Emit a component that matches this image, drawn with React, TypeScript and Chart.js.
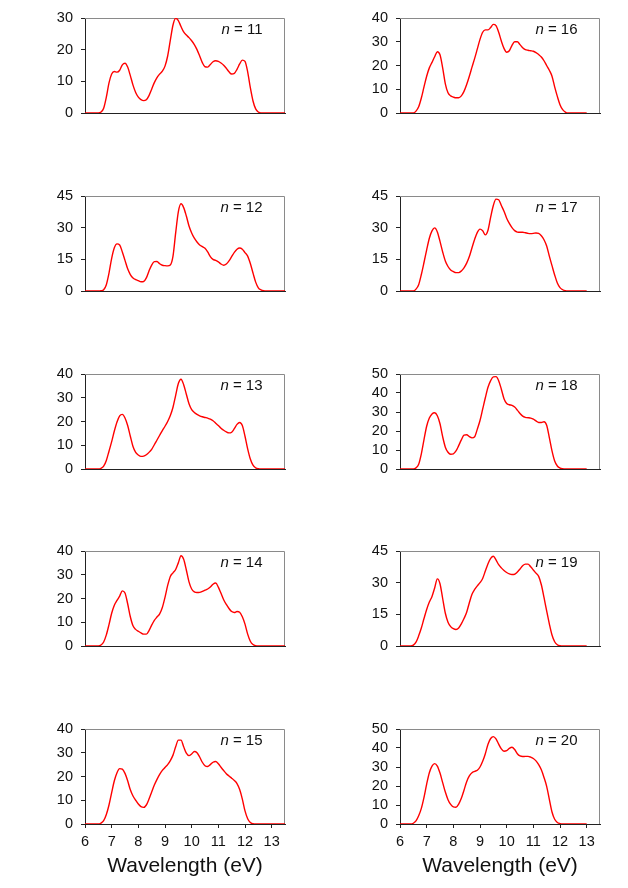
import React, { useEffect, useRef } from 'react';
import { Chart, registerables } from 'chart.js';

Chart.register(...registerables);

// Photon energy grid (eV)
const wavelengths = [
  6.0, 6.1, 6.2, 6.3, 6.4, 6.5, 6.6, 6.7, 6.8, 6.9,
  7.0, 7.1, 7.2, 7.3, 7.4, 7.5, 7.6, 7.7, 7.8, 7.9,
  8.0, 8.1, 8.2, 8.3, 8.4, 8.5, 8.6, 8.7, 8.8, 8.9,
  9.0, 9.1, 9.2, 9.3, 9.4, 9.5, 9.6, 9.7, 9.8, 9.9,
  10.0, 10.1, 10.2, 10.3, 10.4, 10.5, 10.6, 10.7, 10.8, 10.9,
  11.0, 11.1, 11.2, 11.3, 11.4, 11.5, 11.6, 11.7, 11.8, 11.9,
  12.0, 12.1, 12.2, 12.3, 12.4, 12.5, 12.6, 12.7, 12.8, 12.9,
  13.0, 13.1, 13.2, 13.3, 13.4, 13.5,
];

const n11 = [
  0, 0, 0, 0, 0, 0, 0.3, 1.5, 5, 9.5,
  12.3, 13.1, 12.9, 13.5, 15.2, 15.7, 14.5, 11.8, 8.8, 6.5,
  5.0, 4.2, 3.9, 4.2, 5.5, 7.5, 9.6, 11.2, 12.3, 13.2,
  14.8, 18.0, 23.0, 27.8, 29.9, 29.2, 27.3, 25.6, 24.6, 23.8,
  22.8, 21.6, 20.0, 18.0, 15.9, 14.6, 14.5, 15.3, 16.2, 16.5,
  16.3, 15.8, 15.1, 14.1, 13.0, 12.3, 12.5, 13.8, 15.5, 16.7,
  16.3, 13.0, 8.0, 3.8, 1.3, 0.3, 0, 0, 0, 0,
  0, 0, 0, 0, 0, 0,
];
const n12 = [
  0, 0, 0, 0, 0, 0, 0.1, 0.6, 3.0, 8.5,
  15.5, 20.5, 22.3, 21.8, 18.5, 14.5, 10.5, 7.8, 6.2, 5.4,
  4.9, 4.4, 4.5, 6.2, 9.5, 12.3, 13.9, 14.0, 12.9, 12.2,
  12.0, 11.9, 12.3, 16.5, 27.5, 37.5, 41.3, 39.5, 35.5, 30.8,
  27.5, 25.0, 23.2, 21.8, 21.0, 20.2, 18.5, 16.3, 15.0, 14.5,
  13.8, 12.8, 12.2, 12.8, 14.3, 16.3, 18.3, 19.8, 20.4, 19.8,
  18.2, 16.5, 13.0, 8.5, 4.2, 1.5, 0.5, 0.1, 0, 0,
  0, 0, 0, 0, 0, 0,
];
const n13 = [
  0, 0, 0, 0, 0, 0, 0.3, 1.2, 3.6, 7.5,
  11.5, 16.0, 19.8, 22.4, 23.0, 21.5, 18.3, 13.8, 9.5, 7.0,
  5.9, 5.3, 5.4, 6.0, 7.0, 8.3, 10.2, 12.2, 14.2, 16.2,
  18.0, 20.0, 22.5, 26.0, 31.0, 36.0, 37.8, 35.5, 31.5, 27.5,
  25.0, 23.8, 23.0, 22.4, 22.0, 21.7, 21.4, 21.0, 20.3, 19.3,
  18.3, 17.2, 16.3, 15.6, 15.2, 15.5, 17.0, 18.8, 19.6, 18.3,
  13.8, 8.5, 4.2, 1.6, 0.5, 0.1, 0, 0, 0, 0,
  0, 0, 0, 0, 0, 0,
];
const n14 = [
  0, 0, 0, 0, 0, 0, 0.4, 1.7, 4.7, 9.0,
  13.8, 17.2, 19.2, 21.0, 23.2, 22.3, 17.8, 12.3, 8.5, 7.0,
  6.2, 5.5, 5.0, 5.0, 6.5, 8.8, 10.8, 12.2, 13.5, 16.2,
  20.5, 25.5, 29.3, 30.8, 32.2, 35.0, 38.0, 36.5, 32.0, 27.0,
  24.0, 22.8, 22.5, 22.6, 23.0, 23.5, 24.0, 24.8, 26.0, 26.5,
  24.8, 22.2, 19.5, 17.5, 15.8, 14.5, 14.1, 14.5, 14.2, 12.3,
  9.2, 5.0, 2.0, 0.6, 0.1, 0, 0, 0, 0, 0,
  0, 0, 0, 0, 0, 0,
];
const n15 = [
  0, 0, 0, 0, 0, 0, 0.4, 1.4, 4.0, 8.0,
  13.2, 18.2, 21.6, 23.3, 23.1, 21.3, 18.2, 14.4, 11.8, 10.0,
  8.4, 7.3, 7.0, 8.0, 10.5, 13.5, 16.4, 18.8, 20.9, 22.6,
  23.8, 25.0, 26.7, 29.0, 32.5, 35.3, 35.3, 32.5, 29.8, 28.8,
  29.5, 30.5, 30.0, 28.2, 26.0, 24.5, 24.2, 25.0, 26.0, 26.3,
  25.4, 23.9, 22.5, 21.2, 20.2, 19.3, 18.3, 17.0, 14.5, 10.5,
  5.5, 2.2, 0.6, 0.1, 0, 0, 0, 0, 0, 0,
  0, 0, 0, 0, 0, 0,
];
const n16 = [
  0, 0, 0, 0, 0, 0, 0.8, 2.6, 6.3, 11.0,
  15.5, 19.0, 21.3, 23.7, 25.8, 24.5, 19.0, 12.3, 8.5, 7.2,
  6.7, 6.4, 6.4, 7.2, 9.1, 12.0, 15.5, 19.3, 23.0, 27.0,
  31.0, 34.0, 35.0, 35.0, 36.0, 37.3, 36.8, 34.0, 30.3, 27.2,
  25.6, 26.2, 28.5, 30.0, 30.0, 28.8, 27.5, 26.7, 26.4, 26.2,
  26.0, 25.4, 24.6, 23.6, 22.0, 20.0, 18.0, 15.5, 11.0, 7.0,
  3.5, 1.4, 0.4, 0, 0, 0, 0, 0, 0, 0,
  0,
];
const n17 = [
  0, 0, 0, 0, 0, 0, 0.9, 3.0, 7.8, 13.5,
  19.5, 25.0, 28.5, 29.9, 28.0, 23.5, 18.5, 14.2, 11.6, 10.0,
  9.2, 8.7, 8.7, 9.5, 11.0, 13.2, 16.3, 20.5, 24.5, 27.8,
  29.3, 28.5, 26.6, 28.8, 35.0, 40.5, 43.5, 43.2, 40.5, 37.8,
  34.5, 32.0, 30.0, 28.6, 27.9, 27.8, 27.8, 27.6, 27.3, 27.2,
  27.3, 27.5, 27.3, 26.2, 24.3, 21.3, 16.5, 12.0, 7.6, 3.8,
  1.6, 0.6, 0.1, 0, 0, 0, 0, 0, 0, 0,
  0,
];
const n18 = [
  0, 0, 0, 0, 0, 0, 0.6, 2.5, 8.0, 15.5,
  22.5, 26.8, 29.0, 29.6, 28.0, 23.8, 17.0, 11.5, 8.8, 7.8,
  8.0, 9.5, 12.3, 15.3, 17.8, 18.0, 17.0, 16.4, 17.0, 21.0,
  25.5, 31.5, 37.5, 43.0, 46.5, 48.5, 48.6, 46.5, 42.0, 37.0,
  34.5, 33.8, 33.5, 32.6, 31.0, 29.2, 27.8, 27.2, 27.0, 26.8,
  26.3, 25.3, 24.5, 24.5, 24.9, 23.0, 16.5, 9.5, 4.2, 1.6,
  0.5, 0.1, 0, 0, 0, 0, 0, 0, 0, 0,
  0,
];
const n19 = [
  0, 0, 0, 0, 0, 0.4, 1.8, 4.8, 8.5, 13.0,
  17.3, 20.8, 23.5, 27.5, 31.8, 29.5, 22.5, 15.5, 11.3, 9.2,
  8.2, 7.8, 8.5, 10.5, 13.0, 16.0, 20.5, 24.5, 26.8, 28.5,
  30.0, 32.0, 35.5, 39.0, 41.5, 42.5, 40.8, 38.5, 37.0, 35.8,
  34.8, 34.2, 33.9, 34.0, 35.0, 36.5, 38.0, 38.8, 38.8, 37.5,
  36.0, 34.5, 33.0, 29.0, 23.0, 16.6, 10.5, 5.2, 2.0, 0.6,
  0.1, 0, 0, 0, 0, 0, 0, 0, 0, 0,
  0,
];
const n20 = [
  0, 0, 0, 0, 0, 0.4, 1.6, 4.3, 8.2, 14.0,
  21.0, 27.0, 30.5, 31.8, 30.5, 26.8, 21.8, 16.8, 12.8, 10.3,
  9.0, 8.8, 10.5, 13.5, 17.8, 22.3, 25.3, 27.0, 27.7, 28.3,
  30.0, 33.0, 37.0, 42.0, 45.0, 46.0, 44.8, 42.0, 39.5, 38.3,
  38.6, 39.8, 40.4, 39.2, 37.0, 35.8, 35.5, 35.6, 35.6, 35.2,
  34.5, 33.2, 31.2, 28.5, 24.5, 19.8, 13.0, 6.3, 2.5, 0.8,
  0.2, 0, 0, 0, 0, 0, 0, 0, 0, 0,
  0,
];

const panelNs = ['11', '12', '13', '14', '15', '16', '17', '18', '19', '20'];
const panelSeries = [n11, n12, n13, n14, n15, n16, n17, n18, n19, n20];
const panelYMax = [30, 45, 40, 40, 40, 40, 45, 50, 45, 50];
const panelYStep = [10, 15, 10, 10, 10, 10, 15, 10, 15, 10];
const xTicks = [6, 7, 8, 9, 10, 11, 12, 13];
const xTitle = 'Wavelength (eV)';

const FONT = '"Liberation Sans", Arial, Helvetica, sans-serif';
const PLOT_W = 200;
const PLOT_H = 95;
const AXIS_W = 55;
const PAD_TOP = 12;
const PAD_RIGHT = 10;
const COL_LEFT = [85, 400];
const ROW_TOP = [18, 196, 374, 551, 729];
const BOTTOM_AXIS_H = 57;
const PLAIN_AXIS_H = 12;

const framePlugin = {
  id: 'frame',
  beforeDatasetsDraw(chart: any) {
    const { ctx, chartArea } = chart;
    const { left, right, top, bottom } = chartArea;
    ctx.save();
    ctx.strokeStyle = '#8a8a8a';
    ctx.lineWidth = 1;
    const t = Math.round(top) + 0.5;
    const r = Math.round(right) - 0.5;
    ctx.beginPath();
    ctx.moveTo(left, t);
    ctx.lineTo(r, t);
    ctx.lineTo(r, bottom);
    ctx.stroke();
    ctx.restore();
  },
  afterDraw(chart: any, _args: any, opts: any) {
    const { ctx, chartArea } = chart;
    const { right, top } = chartArea;
    ctx.save();
    ctx.fillStyle = '#111';
    ctx.textBaseline = 'middle';
    ctx.textAlign = 'left';
    const rest = ' = ' + opts.n;
    ctx.font = `15px ${FONT}`;
    const restW = ctx.measureText(rest).width;
    ctx.font = `italic 15px ${FONT}`;
    const nW = ctx.measureText('n').width;
    const xEnd = right - 22.5;
    const y = top + 12;
    ctx.fillText('n', xEnd - restW - nW, y);
    ctx.font = `15px ${FONT}`;
    ctx.fillText(rest, xEnd - restW, y);
    ctx.restore();
  },
};

function Panel({ index }: { index: number }) {
  const ref = useRef<HTMLCanvasElement>(null);
  const col = index < 5 ? 0 : 1;
  const row = index % 5;
  const isBottom = row === 4;
  const xAxisH = isBottom ? BOTTOM_AXIS_H : PLAIN_AXIS_H;
  const width = AXIS_W + PLOT_W + PAD_RIGHT;
  const height = PAD_TOP + PLOT_H + xAxisH;
  const left = COL_LEFT[col] - AXIS_W;
  const top = ROW_TOP[row] - PAD_TOP;

  useEffect(() => {
    const ys = panelSeries[index];
    const data = ys.map((y, i) => ({ x: wavelengths[i], y }));
    const chart = new Chart(ref.current as HTMLCanvasElement, {
      type: 'line',
      data: {
        datasets: [
          {
            data,
            borderColor: '#ff0000',
            borderWidth: 1.4,
            pointRadius: 0,
            fill: false,
            cubicInterpolationMode: 'monotone',
          },
        ],
      },
      options: {
        responsive: false,
        animation: false,
        events: [],
        layout: { padding: { top: PAD_TOP, right: PAD_RIGHT, left: 0, bottom: 0 } },
        plugins: {
          legend: { display: false },
          tooltip: { enabled: false },
          frame: { n: panelNs[index] },
        } as any,
        scales: {
          x: {
            type: 'linear',
            min: 6,
            max: 13.5,
            afterFit: (s: any) => {
              s.height = xAxisH;
              s.paddingLeft = 0;
              s.paddingRight = 0;
            },
            afterBuildTicks: (s: any) => {
              s.ticks = xTicks.map((v) => ({ value: v }));
            },
            border: { display: true, color: '#222', width: 1 },
            grid: {
              display: isBottom,
              drawOnChartArea: false,
              drawTicks: true,
              tickLength: 4,
              color: '#222',
            },
            ticks: {
              display: isBottom,
              stepSize: 1,
              includeBounds: false,
              padding: 5,
              color: '#111',
              font: { family: FONT, size: 14.5 },
              maxRotation: 0,
              autoSkip: false,
            },
            title: {
              display: isBottom,
              text: xTitle,
              color: '#111',
              font: { family: FONT, size: 21 },
              padding: { top: 0, bottom: 2 },
            },
          },
          y: {
            type: 'linear',
            min: 0,
            max: panelYMax[index],
            afterFit: (s: any) => {
              s.width = AXIS_W;
              s.paddingTop = 0;
              s.paddingBottom = 0;
            },
            border: { display: true, color: '#222', width: 1 },
            grid: {
              drawOnChartArea: false,
              drawTicks: true,
              tickLength: 4,
              color: '#222',
            },
            ticks: {
              stepSize: panelYStep[index],
              autoSkip: false,
              padding: 8,
              color: '#111',
              font: { family: FONT, size: 14.5 },
            },
          },
        },
      } as any,
      plugins: [framePlugin],
    });
    return () => chart.destroy();
  }, [index]);

  return (
    <canvas
      ref={ref}
      width={width}
      height={height}
      style={{ position: 'absolute', left, top, width, height }}
    />
  );
}

export default function App() {
  return (
    <div style={{ position: 'absolute', left: 0, top: 0, width: 628, height: 888, background: '#fff' }}>
      {panelNs.map((_, i) => (
        <Panel key={i} index={i} />
      ))}
    </div>
  );
}
